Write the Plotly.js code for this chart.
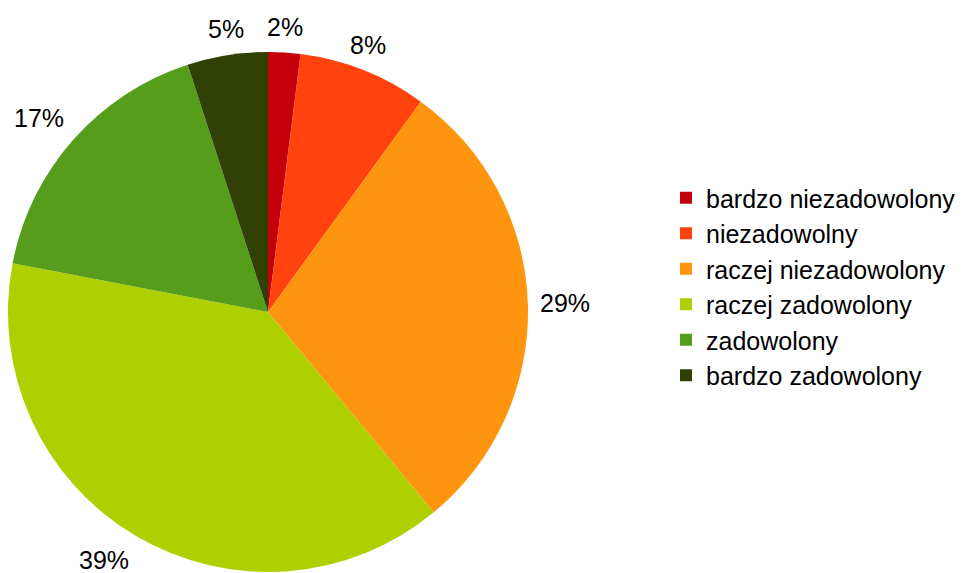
<!DOCTYPE html>
<html>
<head>
<meta charset="utf-8">
<script src="https://cdn.plot.ly/plotly-3.0.1.min.js"></script>
<style>html,body{margin:0;padding:0;background:#fff;}#chart{width:962px;height:573px;}</style>
</head>
<body>
<div id="chart"></div>
<script>
const categories = ["bardzo niezadowolony", "niezadowolny", "raczej niezadowolony", "raczej zadowolony", "zadowolony", "bardzo zadowolony"];
const values = [2, 8, 29, 39, 17, 5];
const colors = ["#c5000b", "#ff420e", "#ff950e", "#aecf00", "#579d1c", "#314004"];

const W = 962, H = 573;
const FONT = "Liberation Sans, Arial, sans-serif";
const FS = 25;
// pie placement (pixels)
const cx = 268, cy = 312, r = 260, labelR = 271;

const trace = {
  type: "pie",
  labels: categories,
  values: values,
  sort: false,
  direction: "clockwise",
  rotation: 0,
  marker: {colors: colors, line: {width: 0}},
  textinfo: "none",
  showlegend: true,
  hoverinfo: "label+percent",
  domain: {x: [(cx - r) / W, (cx + r) / W], y: [(H - cy - r) / H, (H - cy + r) / H]}
};

// percent labels placed outside each slice, derived from the values
const total = values.reduce((a, b) => a + b, 0);
const annotations = [];
let cum = 0;
values.forEach((v) => {
  const mid = (cum + v / 2) / total * 2 * Math.PI;
  cum += v;
  const txt = Math.round(v / total * 100) + "%";
  const s = Math.sin(mid), c = Math.cos(mid);
  const px = cx + labelR * s, py = cy - labelR * c;
  // alignment by angle (math angle, counter-clockwise from 3 o'clock)
  let a = (90 - mid * 180 / Math.PI) % 360; if (a < 0) a += 360;
  let xa = "center", ya = "middle";
  if (a <= 22.5 || a > 337.5) { xa = "left"; ya = "middle"; }
  else if (a < 67.5) { xa = "left"; ya = "bottom"; }
  else if (a < 112.5) { xa = "center"; ya = "bottom"; }
  else if (a <= 157.5) { xa = "right"; ya = "bottom"; }
  else if (a <= 202.5) { xa = "right"; ya = "middle"; }
  else if (a < 247.5) { xa = "right"; ya = "top"; }
  else if (a < 292.5) { xa = "center"; ya = "top"; }
  else { xa = "left"; ya = "top"; }
  annotations.push({
    xref: "paper", yref: "paper",
    x: px / W, y: 1 - py / H,
    text: txt,
    showarrow: false,
    xanchor: xa,
    yanchor: ya,
    borderpad: 0,
    font: {family: FONT, size: FS, color: "#000"}
  });
});

const layout = {
  width: W, height: H,
  margin: {l: 0, r: 0, t: 0, b: 0},
  paper_bgcolor: "#fff",
  font: {family: FONT, color: "#000"},
  showlegend: true,
  annotations: annotations,
  legend: {
    x: 666 / W, y: 0.5, xanchor: "left", yanchor: "middle",
    font: {size: FS, color: "#000", family: FONT},
    bgcolor: "rgba(0,0,0,0)"
  }
};
Plotly.newPlot("chart", [trace], layout, {displayModeBar: false, staticPlot: true});
</script>
</body>
</html>
